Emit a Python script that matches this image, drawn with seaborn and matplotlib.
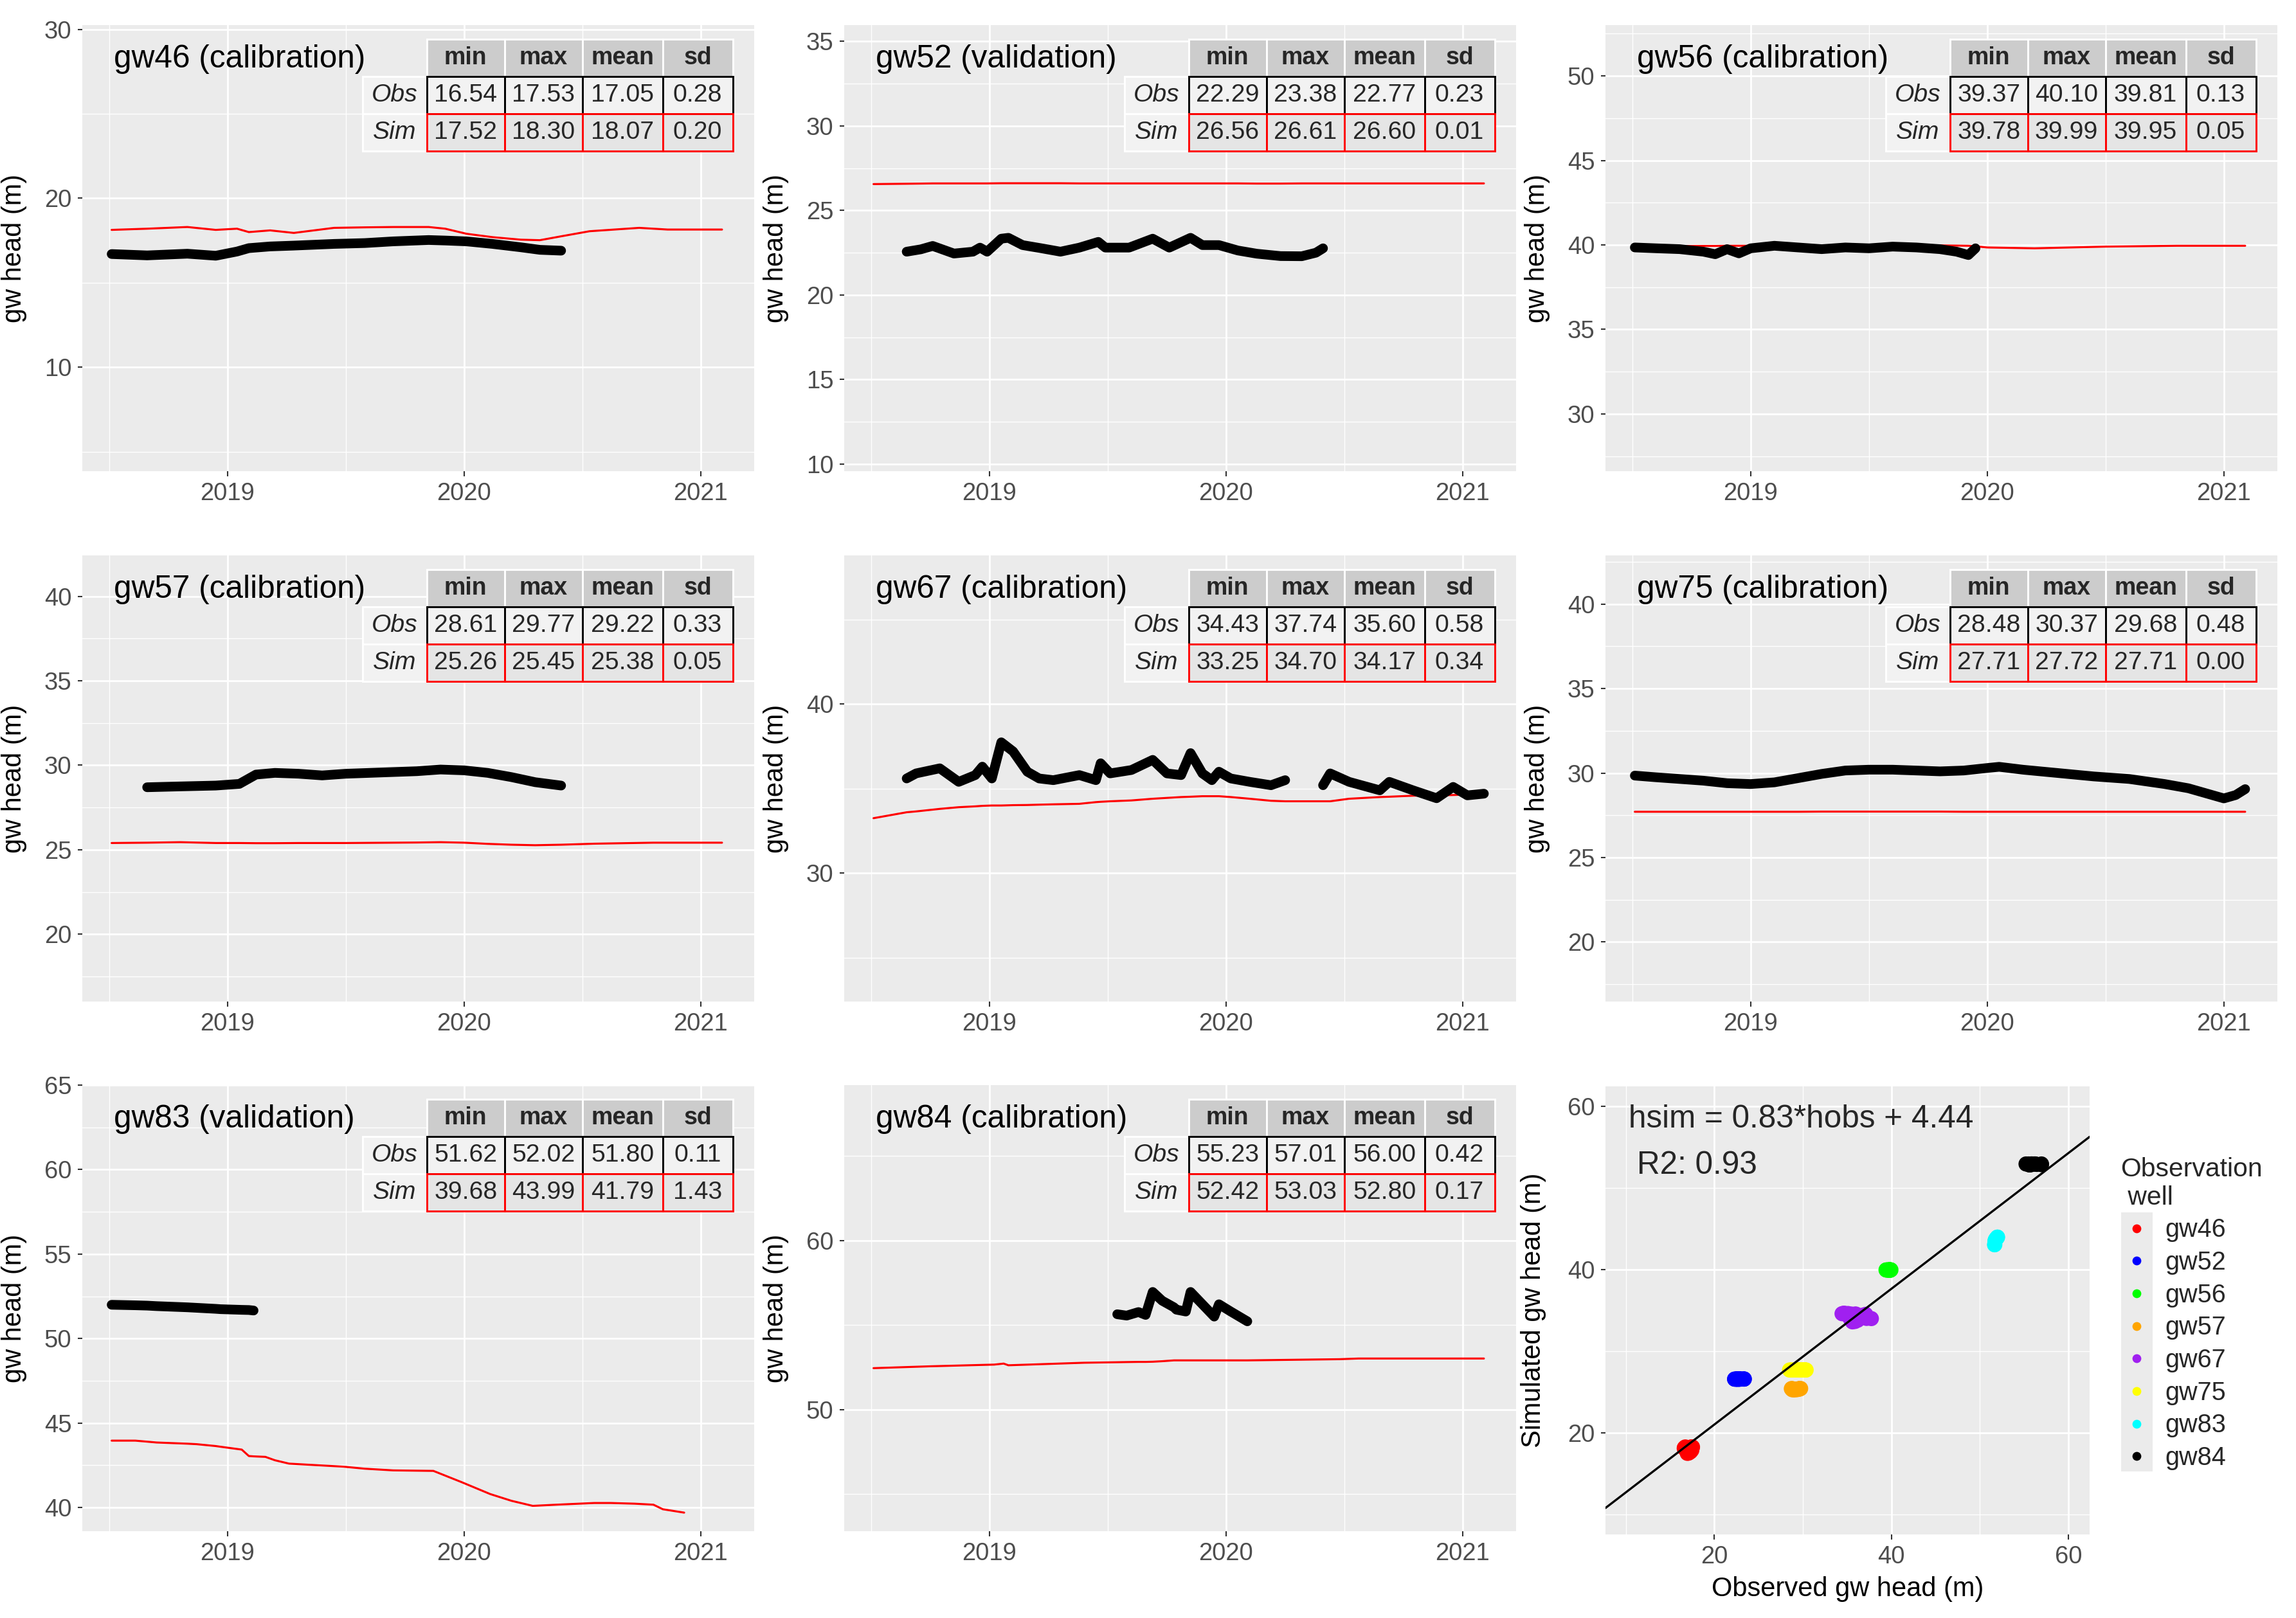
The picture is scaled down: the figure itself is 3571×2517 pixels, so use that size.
import numpy as np
import pandas as pd
import matplotlib
matplotlib.use("Agg")
import matplotlib.pyplot as plt
import seaborn as sns
from matplotlib.ticker import MultipleLocator, FixedLocator
from matplotlib.patches import Rectangle
from matplotlib.lines import Line2D

nan = np.nan

# ---------------- data (decimal years, heads in m) ----------------
gw46_t = [2018.51, 2018.66, 2018.83, 2018.95, 2019.04, 2019.09, 2019.18, 2019.28, 2019.45, 2019.58, 2019.70,
          2019.85, 2019.92, 2020.01, 2020.12, 2020.24, 2020.32, 2020.41, 2020.53, 2020.74, 2020.86, 2021.09]
gw46_obs = [16.70, 16.62, 16.72, 16.60, 16.85, 17.05, 17.15, 17.20, 17.30, 17.35, 17.45,
            17.53, 17.50, 17.45, 17.30, 17.10, 16.95, 16.90, nan, nan, nan, nan]
gw46_sim = [18.13, 18.20, 18.30, 18.13, 18.20, 18.00, 18.10, 17.95, 18.25, 18.28, 18.30,
            18.30, 18.20, 17.90, 17.70, 17.55, 17.52, 17.75, 18.05, 18.25, 18.15, 18.15]

gw52_t = [2018.51, 2018.65, 2018.71, 2018.76, 2018.85, 2018.93, 2018.96, 2018.99, 2019.05, 2019.08, 2019.14,
          2019.22, 2019.30, 2019.38, 2019.46, 2019.49, 2019.59, 2019.69, 2019.76, 2019.85, 2019.90, 2019.97,
          2020.05, 2020.13, 2020.23, 2020.32, 2020.38, 2020.41, 2020.70, 2021.09]
gw52_obs = [nan, 22.56, 22.70, 22.90, 22.45, 22.56, 22.80, 22.56, 23.33, 23.38, 22.95,
            22.76, 22.56, 22.80, 23.14, 22.80, 22.80, 23.33, 22.80, 23.38, 22.95, 22.95,
            22.63, 22.44, 22.30, 22.29, 22.50, 22.76, nan, nan]
gw52_sim = [26.56, 26.58, 26.59, 26.60, 26.60, 26.60, 26.60, 26.60, 26.61, 26.61, 26.61,
            26.61, 26.61, 26.60, 26.60, 26.60, 26.60, 26.60, 26.60, 26.60, 26.60, 26.60,
            26.60, 26.59, 26.59, 26.60, 26.60, 26.60, 26.60, 26.60]

gw56_t = [2018.51, 2018.60, 2018.70, 2018.80, 2018.85, 2018.90, 2018.95, 2019.00, 2019.10, 2019.20, 2019.30,
          2019.40, 2019.50, 2019.60, 2019.70, 2019.80, 2019.87, 2019.92, 2019.95, 2020.00, 2020.20, 2020.50,
          2020.80, 2021.09]
gw56_obs = [39.85, 39.80, 39.75, 39.60, 39.45, 39.75, 39.50, 39.80, 39.95, 39.85, 39.75,
            39.85, 39.80, 39.90, 39.85, 39.75, 39.60, 39.40, 39.80, nan, nan, nan,
            nan, nan]
gw56_sim = [39.90, 39.92, 39.93, 39.94, 39.94, 39.95, 39.95, 39.95, 39.96, 39.96, 39.96,
            39.96, 39.95, 39.96, 39.97, 39.97, 39.96, 39.95, 39.92, 39.85, 39.80, 39.90,
            39.95, 39.95]

gw57_t = [2018.51, 2018.66, 2018.80, 2018.95, 2019.05, 2019.12, 2019.20, 2019.30, 2019.40, 2019.50, 2019.60,
          2019.70, 2019.80, 2019.90, 2020.00, 2020.10, 2020.20, 2020.30, 2020.41, 2020.55, 2020.80, 2021.09]
gw57_obs = [nan, 28.70, 28.75, 28.80, 28.90, 29.45, 29.55, 29.50, 29.40, 29.50, 29.55,
            29.60, 29.65, 29.75, 29.70, 29.55, 29.30, 29.00, 28.80, nan, nan, nan]
gw57_sim = [25.40, 25.42, 25.45, 25.40, 25.40, 25.39, 25.39, 25.40, 25.40, 25.40, 25.41,
            25.42, 25.43, 25.45, 25.42, 25.35, 25.30, 25.27, 25.30, 25.36, 25.42, 25.42]

gw67_t = [2018.51, 2018.65, 2018.69, 2018.79, 2018.87, 2018.94, 2018.97, 2019.01, 2019.05, 2019.10, 2019.16,
          2019.21, 2019.27, 2019.38, 2019.45, 2019.47, 2019.51, 2019.60, 2019.69, 2019.75, 2019.81, 2019.85,
          2019.90, 2019.94, 2019.97, 2020.02, 2020.10, 2020.19, 2020.25, 2020.33, 2020.41, 2020.44, 2020.52,
          2020.65, 2020.69, 2020.79, 2020.89, 2020.96, 2021.02, 2021.09]
gw67_obs = [nan, 35.60, 35.90, 36.20, 35.40, 35.80, 36.30, 35.60, 37.74, 37.20, 36.00,
            35.60, 35.50, 35.80, 35.50, 36.50, 35.90, 36.10, 36.70, 35.90, 35.80, 37.10,
            35.90, 35.50, 36.00, 35.60, 35.40, 35.20, 35.50, nan, 35.20, 35.90, 35.40,
            34.90, 35.40, 34.90, 34.43, 35.10, 34.60, 34.70]
gw67_sim = [33.25, 33.60, 33.65, 33.80, 33.90, 33.95, 33.98, 34.00, 34.00, 34.02, 34.03,
            34.05, 34.07, 34.10, 34.20, 34.22, 34.25, 34.30, 34.40, 34.45, 34.50, 34.52,
            34.55, 34.55, 34.55, 34.50, 34.40, 34.28, 34.25, 34.25, 34.25, 34.25, 34.40,
            34.50, 34.52, 34.58, 34.60, 34.62, 34.65, 34.65]

gw75_t = [2018.51, 2018.60, 2018.70, 2018.80, 2018.90, 2019.00, 2019.10, 2019.20, 2019.30, 2019.40, 2019.50,
          2019.60, 2019.70, 2019.80, 2019.90, 2020.00, 2020.05, 2020.15, 2020.30, 2020.45, 2020.60, 2020.75,
          2020.85, 2020.95, 2021.00, 2021.05, 2021.09]
gw75_obs = [29.85, 29.75, 29.65, 29.55, 29.40, 29.35, 29.45, 29.70, 29.95, 30.15, 30.20,
            30.20, 30.15, 30.10, 30.15, 30.30, 30.37, 30.20, 30.00, 29.80, 29.65, 29.35,
            29.10, 28.70, 28.50, 28.70, 29.05]
gw75_sim = [27.71, 27.71, 27.71, 27.71, 27.71, 27.71, 27.71, 27.71, 27.72, 27.72, 27.72,
            27.72, 27.72, 27.72, 27.71, 27.71, 27.71, 27.71, 27.71, 27.71, 27.71, 27.71,
            27.71, 27.71, 27.71, 27.71, 27.71]

gw83_t = [2018.51, 2018.61, 2018.66, 2018.70, 2018.83, 2018.87, 2018.95, 2018.97, 2019.06, 2019.09, 2019.11,
          2019.16, 2019.20, 2019.26, 2019.49, 2019.58, 2019.70, 2019.87, 2019.99, 2020.11, 2020.20, 2020.29,
          2020.39, 2020.55, 2020.62, 2020.72, 2020.80, 2020.84, 2020.93]
gw83_obs = [52.00, 51.97, 51.95, 51.92, 51.85, 51.82, 51.76, 51.74, 51.70, 51.69, 51.66,
            nan, nan, nan, nan, nan, nan, nan, nan, nan, nan, nan,
            nan, nan, nan, nan, nan, nan, nan]
gw83_sim = [43.96, 43.96, 43.90, 43.85, 43.78, 43.75, 43.64, 43.60, 43.43, 43.05, 43.03,
            43.00, 42.80, 42.60, 42.42, 42.30, 42.20, 42.17, 41.50, 40.80, 40.40, 40.10,
            40.17, 40.27, 40.27, 40.23, 40.17, 39.90, 39.70]

gw84_t = [2018.51, 2018.75, 2019.02, 2019.06, 2019.08, 2019.40, 2019.54, 2019.58, 2019.63, 2019.66, 2019.69,
          2019.73, 2019.78, 2019.79, 2019.83, 2019.85, 2019.90, 2019.95, 2019.97, 2020.02, 2020.09, 2020.48,
          2020.56, 2021.09]
gw84_obs = [nan, nan, nan, nan, nan, nan, 55.64, 55.56, 55.77, 55.60, 56.96,
            56.44, 56.05, 55.91, 55.80, 56.96, 56.23, 55.50, 56.23, 55.80, 55.22, nan,
            nan, nan]
gw84_sim = [52.45, 52.56, 52.66, 52.72, 52.62, 52.77, 52.80, 52.81, 52.82, 52.82, 52.83,
            52.86, 52.91, 52.91, 52.91, 52.91, 52.91, 52.91, 52.91, 52.91, 52.91, 52.98,
            53.02, 53.02]

well_names = ["gw46", "gw52", "gw56", "gw57", "gw67", "gw75", "gw83", "gw84"]
well_roles = ["calibration", "validation", "calibration", "calibration",
              "calibration", "calibration", "validation", "calibration"]
well_colors = ["#FF0000", "#0000FF", "#00FF00", "#FFA500", "#A020F0", "#FFFF00", "#00FFFF", "#000000"]
y_tick_steps = [10, 5, 5, 5, 10, 5, 5, 10]

# table statistics: min, max, mean, sd
obs_stats = [[16.54, 17.53, 17.05, 0.28], [22.29, 23.38, 22.77, 0.23], [39.37, 40.10, 39.81, 0.13],
             [28.61, 29.77, 29.22, 0.33], [34.43, 37.74, 35.60, 0.58], [28.48, 30.37, 29.68, 0.48],
             [51.62, 52.02, 51.80, 0.11], [55.23, 57.01, 56.00, 0.42]]
sim_stats = [[17.52, 18.30, 18.07, 0.20], [26.56, 26.61, 26.60, 0.01], [39.78, 39.99, 39.95, 0.05],
             [25.26, 25.45, 25.38, 0.05], [33.25, 34.70, 34.17, 0.34], [27.71, 27.72, 27.71, 0.00],
             [39.68, 43.99, 41.79, 1.43], [52.42, 53.03, 52.80, 0.17]]

fit_slope = 0.83
fit_intercept = 4.44
fit_r2 = 0.93

year_ticks = [2019, 2020, 2021]

series = {
    "gw46": (gw46_t, gw46_obs, gw46_sim), "gw52": (gw52_t, gw52_obs, gw52_sim),
    "gw56": (gw56_t, gw56_obs, gw56_sim), "gw57": (gw57_t, gw57_obs, gw57_sim),
    "gw67": (gw67_t, gw67_obs, gw67_sim), "gw75": (gw75_t, gw75_obs, gw75_sim),
    "gw83": (gw83_t, gw83_obs, gw83_sim), "gw84": (gw84_t, gw84_obs, gw84_sim),
}

# ---------------- style ----------------
sns.set_theme(style="darkgrid")
plt.rcParams["font.family"] = ["Liberation Sans", "DejaVu Sans"]
plt.rcParams["axes.unicode_minus"] = False

W, H = 3571, 2517
DPI = 300
fig = plt.figure(figsize=(W / DPI, H / DPI), dpi=DPI)
fig.patch.set_facecolor("white")

TICK_COLOR = "#4D4D4D"


def add_ax(left, top, width, height):
    return fig.add_axes([left / W, 1 - (top + height) / H, width / W, height / H])


def style_ax(ax):
    ax.set_facecolor("#EBEBEB")
    for s in ax.spines.values():
        s.set_visible(False)
    ax.grid(which="major", color="white", linewidth=0.65)
    ax.grid(which="minor", color="white", linewidth=0.32)
    ax.set_axisbelow(True)
    ax.tick_params(which="major", length=1.8, width=0.5, color="#333333",
                   labelsize=9.2, labelcolor=TICK_COLOR, pad=2.2,
                   bottom=True, left=True)
    ax.tick_params(which="minor", length=0, bottom=False, left=False)


def draw_table(ax, ostats, sstats):
    text = [["Obs"] + [f"{v:.2f}" for v in ostats],
            ["Sim"] + [f"{v:.2f}" for v in sstats]]
    tb = ax.table(cellText=text, colLabels=["", "min", "max", "mean", "sd"],
                  cellLoc="center", bbox=[0.417, 0.718, 0.551, 0.25])
    tb.set_zorder(6)
    tb.auto_set_font_size(False)
    tb.set_fontsize(9.4)
    widths = [100, 121, 121, 125, 109]
    for (r, c), cell in tb.get_celld().items():
        cell.set_width(widths[c] / 1000)
        cell.set_linewidth(0.7)
        if r == 0:
            if c == 0:
                cell.set_visible(False)
            else:
                cell.set_facecolor("#CCCCCC")
                cell.set_edgecolor("white")
                cell.get_text().set_fontweight("bold")
                cell.get_text().set_fontsize(9.0)
        elif c == 0:
            cell.set_facecolor("#F2F2F2")
            cell.set_edgecolor("white")
            cell.get_text().set_fontstyle("italic")
            cell._loc = "right"
            cell.PAD = 0.04
        else:
            cell.set_facecolor("#F2F2F2" if r == 1 else "#E5E5E5")
            cell.set_edgecolor("black" if r == 1 else "red")


col_left = [128, 1313, 2497]
row_top = [39, 864, 1688]
PW, PH = 1045, 694

scatter_rows = []
for i, name in enumerate(well_names):
    r, c = divmod(i, 3)
    ax = add_ax(col_left[c], row_top[r], PW, PH)
    t, obs, sim = series[name]
    df = pd.DataFrame({"t": t, "obs": np.array(obs, dtype=float), "sim": np.array(sim, dtype=float)})
    sns.lineplot(data=df, x="t", y="sim", color="red", linewidth=0.75, estimator=None,
                 sort=False, ax=ax)
    dfo = df.assign(seg=df["obs"].isna().cumsum()).dropna(subset=["obs"])
    sns.lineplot(data=dfo, x="t", y="obs", units="seg", estimator=None, sort=False,
                 color="black", linewidth=3.6, solid_capstyle="round",
                 solid_joinstyle="round", ax=ax)
    for o, s in zip(dfo["obs"], dfo["sim"]):
        scatter_rows.append((name, o, s))

    style_ax(ax)
    ax.set_xlim(2018.386, 2021.226)
    ax.xaxis.set_major_locator(FixedLocator(year_ticks))
    ax.xaxis.set_minor_locator(FixedLocator([2018.5, 2019.5, 2020.5]))
    ax.set_xticklabels([str(y) for y in year_ticks])
    m = obs_stats[i][2]
    ax.set_ylim(m - 13.2, m + 13.2)
    step = y_tick_steps[i]
    ax.yaxis.set_major_locator(MultipleLocator(step))
    ax.yaxis.set_minor_locator(MultipleLocator(step / 2))
    ax.set_xlabel("")
    ax.set_ylabel("gw head (m)", fontsize=10, color="black")
    ax.yaxis.set_label_coords(-0.082, 0.5)
    ax.text(0.047, 0.924, f"{name} ({well_roles[i]})", transform=ax.transAxes,
            fontsize=11.9, ha="left", va="center", color="black")
    draw_table(ax, obs_stats[i], sim_stats[i])

# ---------------- scatter panel ----------------
axs = add_ax(2497, 1690, 753, 697)
sc = pd.DataFrame(scatter_rows, columns=["well", "hobs", "hsim"])
palette = dict(zip(well_names, well_colors))
sns.scatterplot(data=sc, x="hobs", y="hsim", hue="well", hue_order=well_names,
                palette=palette, s=32, linewidth=0, legend=False, ax=axs, zorder=3)
axs.axline((0, fit_intercept), slope=fit_slope, color="black", linewidth=0.8, zorder=4)
style_ax(axs)
axs.set_xlim(7.7, 62.4)
axs.set_ylim(7.6, 62.4)
axs.xaxis.set_major_locator(MultipleLocator(20))
axs.xaxis.set_minor_locator(MultipleLocator(10))
axs.yaxis.set_major_locator(MultipleLocator(20))
axs.yaxis.set_minor_locator(MultipleLocator(10))
axs.set_xlabel("Observed gw head (m)", fontsize=10, color="black", labelpad=3)
axs.set_ylabel("Simulated gw head (m)", fontsize=10, color="black")
axs.yaxis.set_label_coords(-0.122, 0.5)
axs.text(0.048, 0.927, f"hsim = {fit_slope:.2f}*hobs + {fit_intercept:.2f}",
         transform=axs.transAxes, fontsize=11.9, ha="left", va="center")
axs.text(0.065, 0.824, f"R2: {fit_r2:.2f}", transform=axs.transAxes,
         fontsize=11.9, ha="left", va="center")

# legend
fig.add_artist(Rectangle((3299 / W, 1 - 2289 / H), 49 / W, 403 / H,
                         transform=fig.transFigure, facecolor="#EBEBEB",
                         edgecolor="none", zorder=1))
handles = [Line2D([], [], marker="o", linestyle="", color=col, markersize=3.3,
                  markeredgewidth=0) for col in well_colors]
fig.legend(handles, well_names, title="Observation\n well", loc="upper left",
           bbox_to_anchor=(3278 / W, 1 - 1780 / H), frameon=False, fontsize=9.5,
           title_fontsize=9.8, alignment="left", borderpad=0, handlelength=1.25,
           handletextpad=0.5, labelspacing=0.32)

fig.savefig("out.png", dpi=DPI, facecolor="white")
